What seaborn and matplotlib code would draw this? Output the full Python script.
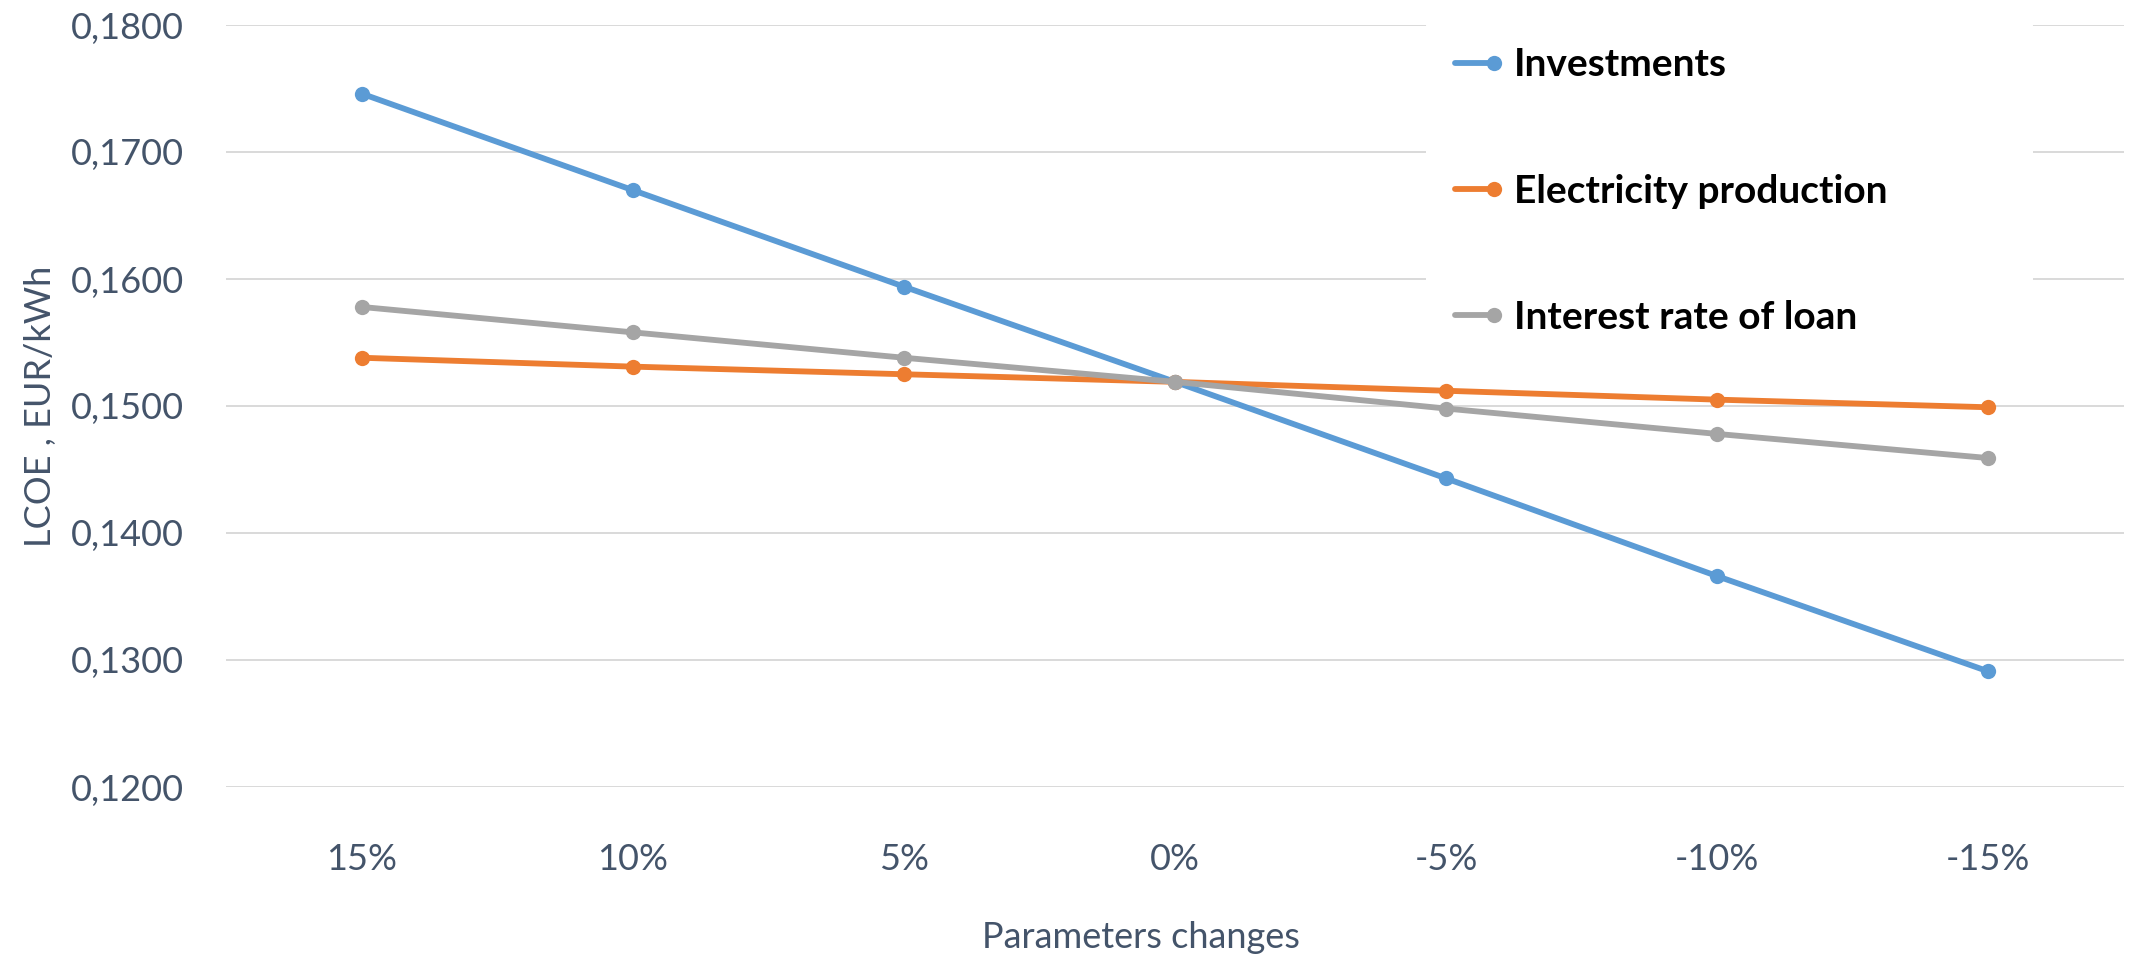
import numpy as np
import pandas as pd
import seaborn as sns
import matplotlib.pyplot as plt
from matplotlib.lines import Line2D
from matplotlib.legend_handler import HandlerLine2D
from matplotlib.ticker import FuncFormatter

# Sensitivity of LCOE to parameter changes
changes = ["15%", "10%", "5%", "0%", "-5%", "-10%", "-15%"]
investments = [0.1746, 0.1670, 0.1594, 0.1519, 0.1443, 0.1366, 0.1291]
electricity_production = [0.1538, 0.1531, 0.1525, 0.1519, 0.1512, 0.1505, 0.1499]
interest_rate = [0.1578, 0.1558, 0.1538, 0.1519, 0.1498, 0.1478, 0.1459]

series_names = ["Investments", "Electricity production", "Interest rate of loan"]
series_colors = ["#5B9BD5", "#ED7D31", "#A5A5A5"]
y_ticks = [0.12, 0.13, 0.14, 0.15, 0.16, 0.17, 0.18]

TEXT = "#44546A"
FONT = "Lato"
LW = 4.2
MS = 11

df = pd.concat([
    pd.DataFrame({"change": changes, "lcoe": vals, "series": name})
    for name, vals in zip(series_names, [investments, electricity_production, interest_rate])
], ignore_index=True)

sns.set_theme(style="white")
plt.rcParams["font.family"] = [FONT, "DejaVu Sans"]

W, H = 2136, 957
fig = plt.figure(figsize=(W / 100, H / 100), dpi=100)
ax = fig.add_axes([226 / W, 1 - 787 / H, 1898 / W, 762 / H])

sns.pointplot(
    data=df, x="change", y="lcoe", hue="series",
    order=changes, hue_order=series_names,
    palette=series_colors, markers="o", linestyles="-",
    errorbar=None, dodge=False, ax=ax,
    linewidth=LW, markersize=MS,
)
for line in ax.lines:
    line.set_linewidth(LW)
    line.set_markersize(MS)
    line.set_markeredgewidth(0)

ax.set_xlim(-0.5, len(changes) - 0.5)
ax.set_ylim(y_ticks[0], y_ticks[-1])
ax.set_yticks(y_ticks)
ax.yaxis.set_major_formatter(FuncFormatter(lambda v, _: f"{v:.4f}".replace(".", ",")))

ax.grid(axis="y", color="#D9D9D9", linewidth=1.4)
ax.grid(axis="x", visible=False)
ax.set_axisbelow(True)
for s in ax.spines.values():
    s.set_visible(False)

ax.tick_params(axis="both", length=0, labelsize=26, labelcolor=TEXT)
ax.tick_params(axis="x", pad=40)
ax.tick_params(axis="y", pad=30)

ax.set_xlabel("Parameters changes", fontsize=26, color=TEXT)
ax.set_ylabel("LCOE , EUR/kWh", fontsize=26, color=TEXT)
ax.xaxis.set_label_coords(0.482, -0.176)
ax.yaxis.set_label_coords(-0.089, 0.5)


class EndMarkerHandler(HandlerLine2D):
    """Legend key with the marker at the right end of the line."""
    def create_artists(self, *args, **kwargs):
        artists = super().create_artists(*args, **kwargs)
        for a in artists:
            if isinstance(a, Line2D):
                a.set_markevery([2])
        return artists


if ax.get_legend() is not None:
    ax.get_legend().remove()

handles = [
    Line2D([0], [0], color=c, linewidth=LW, marker="o", markersize=MS, markeredgewidth=0)
    for c in series_colors
]
leg_left, leg_right, leg_top = 1426, 2033, 18
leg = fig.legend(
    handles, series_names,
    loc="upper left",
    bbox_to_anchor=(leg_left / W, 1 - 300 / H, (leg_right - leg_left) / W, (300 - leg_top) / H),
    mode="expand",
    frameon=True, facecolor="white", edgecolor="none", framealpha=1,
    labelspacing=2.35, handlelength=1.0, handletextpad=0.5,
    borderpad=0.75, borderaxespad=0,
    prop={"family": [FONT, "DejaVu Sans"], "weight": "bold", "size": 28},
    handler_map={Line2D: EndMarkerHandler()},
)
for t in leg.get_texts():
    t.set_color("black")

fig.savefig("out.png", dpi=100, facecolor="white")
